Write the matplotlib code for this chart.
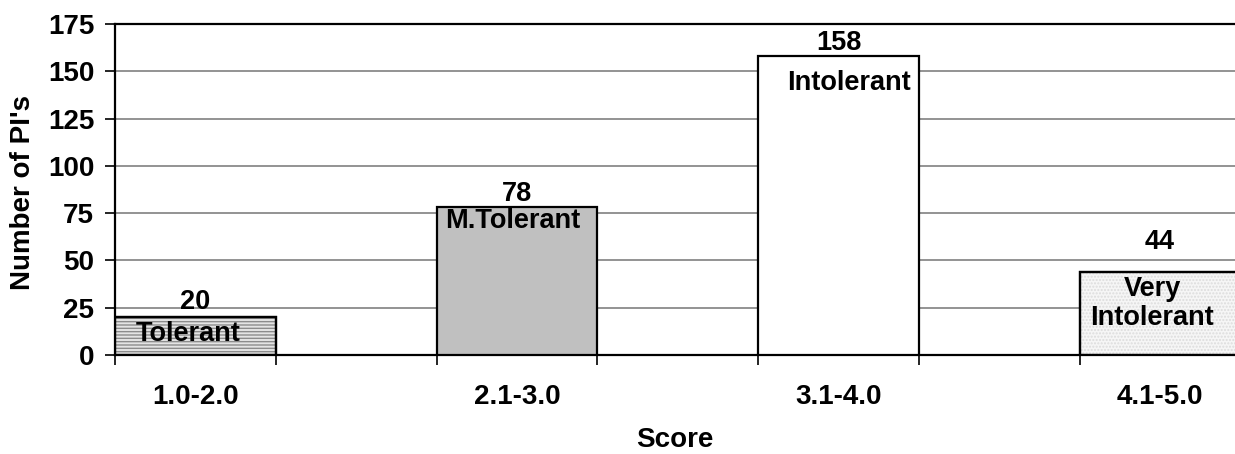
import matplotlib
matplotlib.use("Agg")
import matplotlib.pyplot as plt
import numpy as np

plt.rcParams['font.family'] = ['Liberation Sans', 'DejaVu Sans']
plt.rcParams['font.weight'] = 'bold'
plt.rcParams['hatch.linewidth'] = 1.0

# score bins and number of PIs in each
categories = ['1.0-2.0', '2.1-3.0', '3.1-4.0', '4.1-5.0']
counts = [20, 78, 158, 44]
classes = ['Tolerant', 'M.Tolerant', 'Intolerant', 'Very\nIntolerant']

x = np.arange(len(categories))
width = 0.5

fig = plt.figure(figsize=(12.35, 4.54), dpi=100)
ax = fig.add_axes([115 / 1235, 1 - 355 / 454, 1 - 115 / 1235, (355 - 24) / 454])

faces = ['#e4e4e4', '#c0c0c0', 'white', '#f6f6f6']
hatches = ['-----', None, None, '.....']
hcolors = ['#8c8c8c', 'black', 'black', '#dcdcdc']
for i in range(len(x)):
    b = ax.bar(x[i], counts[i], width, color=faces[i], edgecolor='black',
               linewidth=1.6, zorder=3)
    if hatches[i]:
        b[0].set_hatch(hatches[i])
        b[0]._hatch_color = matplotlib.colors.to_rgba(hcolors[i])
        # redraw outline over hatch colour
        ax.bar(x[i], counts[i], width, fill=False, edgecolor='black',
               linewidth=1.6, zorder=4)

# value on top of each bar
offs = [8, 7, 7, 16]
for i in range(len(x)):
    ax.text(x[i], counts[i] + offs[i], str(counts[i]), ha='center', va='center',
            fontsize=19.5, fontweight='bold', zorder=5)

# class name inside each bar
inner = [(-0.023, 11.0), (-0.012, 71.0), (0.033, 144.0), (-0.025, 27.0)]
for i in range(len(x)):
    dx, yy = inner[i]
    ax.text(x[i] + dx, yy, classes[i], ha='center', va='center',
            fontsize=19.5, fontweight='bold', linespacing=1.15, zorder=5)

ax.set_xlim(-0.25, 3.233)
ax.set_ylim(0, 175)
ax.set_yticks(np.arange(0, 176, 25))
ax.yaxis.grid(True, color='#808080', linewidth=1.2, zorder=0)
ax.set_axisbelow(True)

ax.set_xticks(x)
ax.set_xticklabels(categories)
ax.set_xticks(np.concatenate([x - width / 2, x[:-1] + width / 2]), minor=True)
ax.tick_params(axis='x', which='major', length=0, pad=21, labelsize=20)
ax.tick_params(axis='x', which='minor', length=7, width=1.2, direction='out')
ax.tick_params(axis='y', length=7, width=1.2, direction='out', labelsize=20, pad=8)

for s in ['left', 'bottom', 'top']:
    ax.spines[s].set_linewidth(1.6)
ax.spines['right'].set_visible(False)

ax.set_xlabel('Score', fontsize=20, fontweight='bold', labelpad=12)
fig.text(23 / 1235, 1 - 192 / 454, "Number of PI's", rotation=90,
         ha='center', va='center', fontsize=20, fontweight='bold')

fig.savefig('out.png', dpi=100)
